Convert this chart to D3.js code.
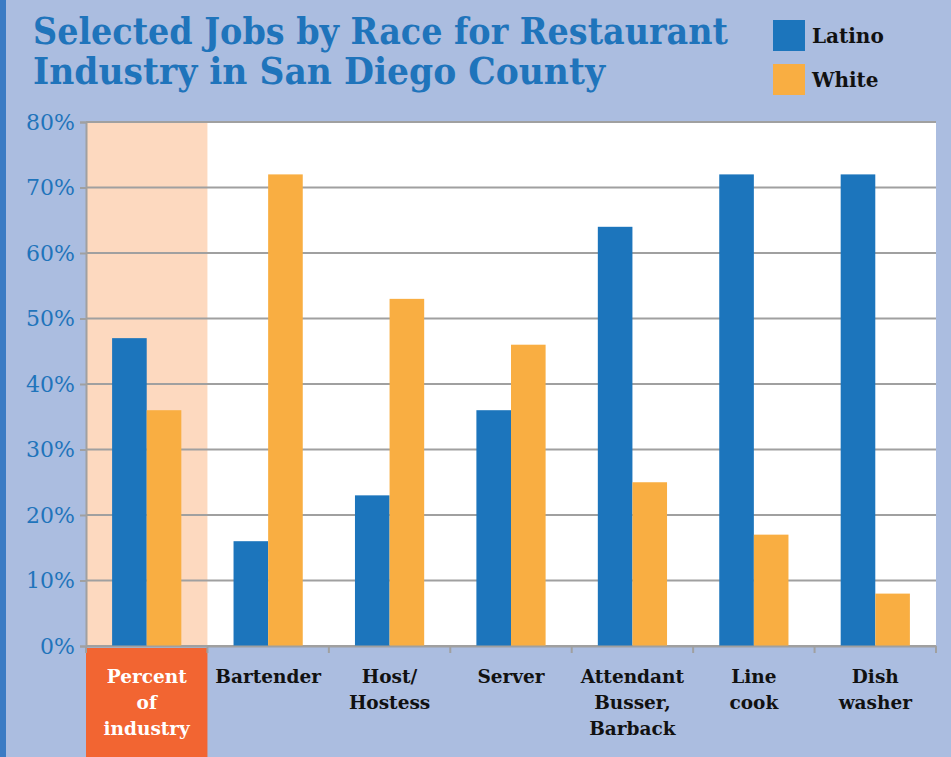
<!DOCTYPE html>
<html>
<head>
<meta charset="utf-8">
<script src="https://cdn.jsdelivr.net/npm/d3@7"></script>
<style>
  body { margin: 0; background: #abbde0; }
  svg { display: block; }
</style>
</head>
<body>
<svg width="951" height="757"></svg>
<script>
// Chart data
const categories = ["Percent of industry", "Bartender", "Host/ Hostess", "Server", "Attendant Busser, Barback", "Line cook", "Dish washer"];
const categoryLines = [["Percent", "of", "industry"], ["Bartender"], ["Host/", "Hostess"], ["Server"], ["Attendant", "Busser,", "Barback"], ["Line", "cook"], ["Dish", "washer"]];
const seriesNames = ["Latino", "White"];
const latinoValues = [47, 16, 23, 36, 64, 72, 72];
const whiteValues = [36, 72, 53, 46, 25, 17, 8];
const yTicks = [0, 10, 20, 30, 40, 50, 60, 70, 80];

const colors = { Latino: "#1c75bc", White: "#f9ae42" };

var svg = d3.select("svg"),
    margin = {top: 122, right: 15, bottom: 111, left: 86},
    width = 951 - margin.left - margin.right,
    height = 757 - margin.top - margin.bottom;

// background + left stripe
svg.append("rect").attr("width", 951).attr("height", 757).attr("fill", "#abbde0");
svg.append("rect").attr("width", 6).attr("height", 757).attr("fill", "#3b7bc4");

var g = svg.append("g").attr("transform", "translate(" + margin.left + "," + margin.top + ")");

var x0 = d3.scaleBand().domain(categories).range([0, width]);
var x1 = d3.scaleBand().domain(seriesNames)
    .range([x0.bandwidth() * 0.215, x0.bandwidth() * 0.785]);
var y = d3.scaleLinear().domain([0, 80]).range([height, 0]);

// plot area
g.append("rect").attr("width", width).attr("height", height).attr("fill", "#fff");
g.append("rect")
    .attr("x", x0(categories[0])).attr("width", x0.bandwidth())
    .attr("height", height).attr("fill", "#fdd9bf");

// orange box under first category
g.append("rect")
    .attr("x", x0(categories[0])).attr("y", height + 2)
    .attr("width", x0.bandwidth()).attr("height", margin.bottom)
    .attr("fill", "#f26532");

// gridlines
g.selectAll(".grid")
    .data(yTicks)
    .enter().append("line")
    .attr("x1", 0).attr("x2", width)
    .attr("y1", d => y(d)).attr("y2", d => y(d))
    .attr("stroke", "#a0a0a0").attr("stroke-width", 2);

// bars
var rows = categories.map((c, i) => ({ cat: c, vals: [
    { key: "Latino", value: latinoValues[i] },
    { key: "White", value: whiteValues[i] }] }));

var groups = g.selectAll(".grp")
    .data(rows)
    .enter().append("g")
    .attr("transform", d => "translate(" + x0(d.cat) + ",0)");

groups.selectAll("rect")
    .data(d => d.vals)
    .enter().append("rect")
    .attr("x", d => x1(d.key))
    .attr("width", x1.bandwidth())
    .attr("y", d => y(d.value))
    .attr("height", d => height - y(d.value))
    .attr("fill", d => colors[d.key]);

// y axis
var yAxis = g.append("g")
    .call(d3.axisLeft(y).tickValues(yTicks).tickFormat(d => d + "%").tickSize(6).tickPadding(5));
yAxis.select(".domain").attr("stroke", "#a0a0a0").attr("stroke-width", 2);
yAxis.selectAll(".tick line").attr("stroke", "#a0a0a0").attr("stroke-width", 2);
yAxis.selectAll(".tick text")
    .attr("fill", "#1f74bb")
    .style("font-family", "'DejaVu Serif', serif")
    .style("font-size", "22px");

// x axis
var xAxis = g.append("g")
    .attr("transform", "translate(0," + height + ")")
    .call(d3.axisBottom(x0).tickSize(0).tickFormat(""));
xAxis.select(".domain").attr("stroke", "#a0a0a0").attr("stroke-width", 2);
xAxis.selectAll(".sep")
    .data(d3.range(categories.length + 1))
    .enter().append("line")
    .attr("x1", i => i * x0.step()).attr("x2", i => i * x0.step())
    .attr("y1", 0).attr("y2", 7)
    .attr("stroke", "#a0a0a0").attr("stroke-width", 2);

// category labels
categories.forEach(function(c, i) {
    var t = g.append("text")
        .attr("x", x0(c) + x0.bandwidth() / 2)
        .attr("y", height + 37)
        .attr("text-anchor", "middle")
        .attr("fill", i === 0 ? "#fff" : "#111")
        .style("font-family", "'DejaVu Serif', serif")
        .style("font-weight", "bold")
        .style("font-size", "18.5px");
    categoryLines[i].forEach(function(line, j) {
        t.append("tspan").attr("x", x0(c) + x0.bandwidth() / 2)
            .attr("dy", j === 0 ? 0 : 26).text(line);
    });
});

// title
var title = svg.append("text")
    .attr("fill", "#1f74bb")
    .style("font-family", "'DejaVu Serif Condensed', 'DejaVu Serif', serif")
    .style("font-weight", "bold")
    .style("font-size", "37px");
title.append("tspan").attr("x", 33).attr("y", 44)
    .attr("textLength", 695).attr("lengthAdjust", "spacingAndGlyphs")
    .text("Selected Jobs by Race for Restaurant");
title.append("tspan").attr("x", 33).attr("y", 84)
    .attr("textLength", 572).attr("lengthAdjust", "spacingAndGlyphs")
    .text("Industry in San Diego County");

// legend
var legend = svg.selectAll(".legend")
    .data(seriesNames)
    .enter().append("g")
    .attr("transform", (d, i) => "translate(773," + (20 + i * 44) + ")");
legend.append("rect").attr("width", 32).attr("height", 31).attr("fill", d => colors[d]);
legend.append("text")
    .attr("x", 39).attr("y", 23)
    .attr("fill", "#111")
    .style("font-family", "'DejaVu Serif', serif")
    .style("font-weight", "bold")
    .style("font-size", "20px")
    .text(d => d);
</script>
</body>
</html>
